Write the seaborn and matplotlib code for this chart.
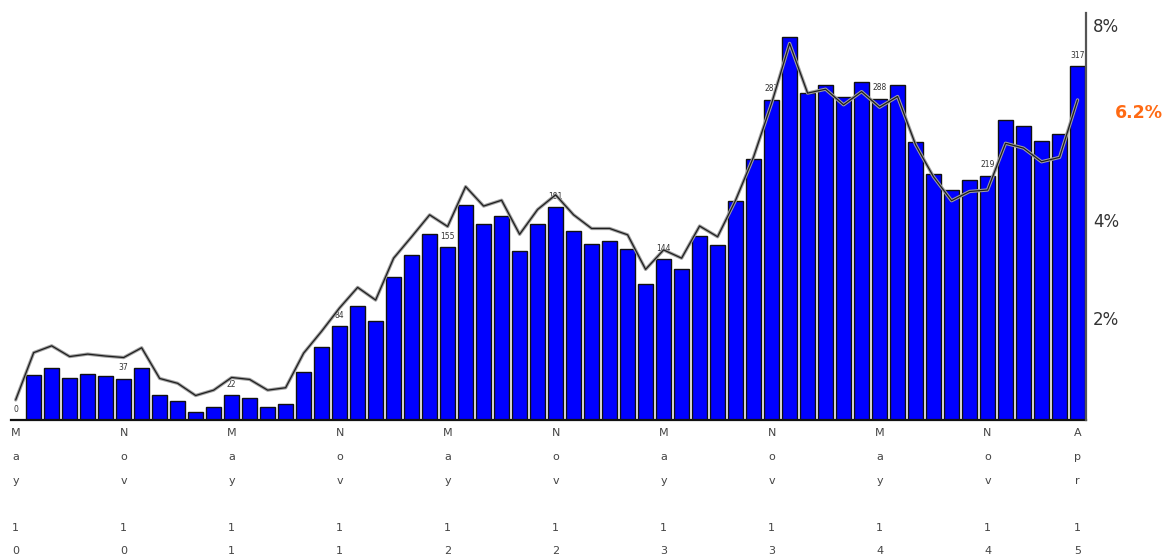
import numpy as np
import pandas as pd
import seaborn as sns
import matplotlib
matplotlib.use("Agg")
import matplotlib.pyplot as plt

# monthly data, May 2010 .. Apr 2015
months = pd.date_range("2010-05-01", "2015-04-01", freq="MS").strftime("%b %y").tolist()

counts = [0, 40, 47, 38, 41, 39, 37, 47, 22, 17,
          7, 12, 22, 20, 12, 14, 43, 65, 84, 102,
          89, 128, 148, 167, 155, 193, 176, 183, 151, 176,
          191, 169, 158, 160, 153, 122, 144, 135, 165, 157,
          196, 234, 287, 343, 293, 300, 289, 303, 288, 300,
          249, 220, 206, 215, 219, 269, 263, 250, 256, 317]

share_pct = [0.31, 1.28, 1.42, 1.20, 1.25, 1.21, 1.18, 1.38, 0.75, 0.65,
             0.40, 0.51, 0.77, 0.73, 0.51, 0.56, 1.27, 1.72, 2.20, 2.62,
             2.36, 3.22, 3.66, 4.11, 3.87, 4.69, 4.29, 4.41, 3.71, 4.22,
             4.52, 4.11, 3.83, 3.83, 3.70, 2.99, 3.39, 3.22, 3.88, 3.66,
             4.41, 5.30, 6.40, 7.63, 6.61, 6.69, 6.37, 6.64, 6.32, 6.54,
             5.55, 4.89, 4.40, 4.59, 4.62, 5.58, 5.48, 5.20, 5.29, 6.47]

label_idx = list(range(0, 60, 6)) + [59]
right_ticks = [2, 4, 8]
current_label = "6.2%"
current_value = 6.2

df = pd.DataFrame({"month": months, "count": counts, "pct": share_pct,
                   "pos": np.arange(len(months))})

sns.set_style("white")
plt.rcParams["font.family"] = ["DejaVu Sans"]

fig = plt.figure(figsize=(11.69, 5.55), dpi=100)
ax = fig.add_axes([11 / 1169, 1 - 420 / 555, (1086 - 11) / 1169, (420 - 13) / 555])

sns.barplot(data=df, x="month", y="count", color="#0000FF", saturation=1,
            edgecolor="#111111", linewidth=1.0, width=0.8, ax=ax)
ax.set_xlim(-0.26, 59.47)
ax.set_ylim(0, 364.7)
ax.set_xlabel("")
ax.set_ylabel("")
ax.set_yticks([])

for i in label_idx:
    ax.annotate(str(counts[i]), (i, counts[i]), xytext=(0, 4.5),
                textcoords="offset points", ha="center", va="bottom",
                fontsize=5.5, color="#333333")

tick_labels = []
for i in label_idx:
    mon, yr = months[i].split()
    tick_labels.append("\n".join(list(mon)) + "\n\n" + "\n".join(list(yr)))
ax.set_xticks(label_idx)
ax.set_xticklabels(tick_labels, fontsize=8, color="#444444", linespacing=2.7)
ax.tick_params(axis="x", length=0, pad=6)

for s in ["top", "left", "right"]:
    ax.spines[s].set_visible(False)
ax.spines["bottom"].set_color("#111111")
ax.spines["bottom"].set_linewidth(1.6)

ax2 = ax.twinx()
sns.lineplot(data=df, x="pos", y="pct", color="#a0a0a0", linewidth=2.4, ax=ax2)
sns.lineplot(data=df, x="pos", y="pct", color="#1e1e1e", linewidth=0.9, ax=ax2)
ax2.set_xlim(-0.26, 59.47)
ax2.set_ylim(-0.103, 8.255)
ax2.set_xlabel("")
ax2.set_ylabel("")
ax2.set_yticks(right_ticks)
ax2.set_yticklabels([f"{t}%" for t in right_ticks], fontsize=12, color="#333333")
ax2.tick_params(axis="y", length=0, pad=5)
for s in ["top", "left", "bottom"]:
    ax2.spines[s].set_visible(False)
ax2.spines["right"].set_color("#555555")
ax2.spines["right"].set_linewidth(1.6)

ax2.text(1.027, current_value, current_label, transform=ax2.get_yaxis_transform(),
         ha="left", va="center", fontsize=12.5, fontweight="bold", color="#FF6A13")

fig.savefig("out.png", dpi=100)
